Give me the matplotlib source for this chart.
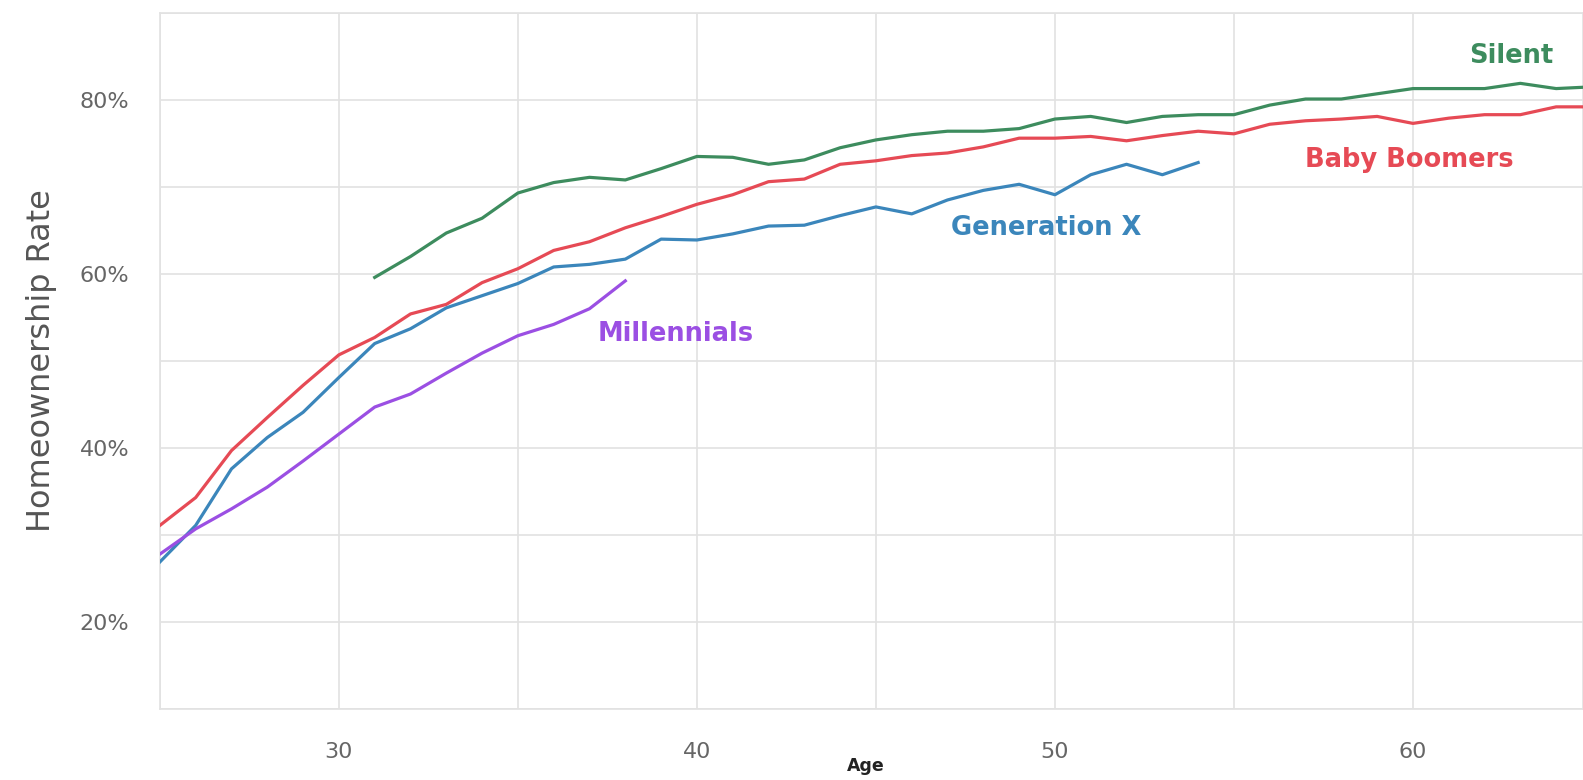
import matplotlib
matplotlib.use("Agg")
import matplotlib.pyplot as plt
from matplotlib.ticker import FixedLocator, FuncFormatter

# homeownership rate (%) by age, per generation
silent_age = list(range(31, 66))
silent = [59.6, 62.0, 64.7, 66.4, 69.3, 70.5, 71.1, 70.8, 72.1, 73.5,
          73.4, 72.6, 73.1, 74.5, 75.4, 76.0, 76.4, 76.4, 76.7, 77.8,
          78.1, 77.4, 78.1, 78.3, 78.3, 79.4, 80.1, 80.1, 80.7, 81.3,
          81.3, 81.3, 81.9, 81.3, 81.5]

boomers_age = list(range(25, 66))
boomers = [31.1, 34.3, 39.7, 43.5, 47.2, 50.7, 52.7, 55.4, 56.5, 59.0,
           60.6, 62.7, 63.7, 65.3, 66.6, 68.0, 69.1, 70.6, 70.9, 72.6,
           73.0, 73.6, 73.9, 74.6, 75.6, 75.6, 75.8, 75.3, 75.9, 76.4,
           76.1, 77.2, 77.6, 77.8, 78.1, 77.3, 77.9, 78.3, 78.3, 79.2,
           79.2]

genx_age = list(range(25, 55))
genx = [26.9, 31.1, 37.6, 41.2, 44.1, 48.1, 52.0, 53.7, 56.1, 57.5,
        58.9, 60.8, 61.1, 61.7, 64.0, 63.9, 64.6, 65.5, 65.6, 66.7,
        67.7, 66.9, 68.5, 69.6, 70.3, 69.1, 71.4, 72.6, 71.4, 72.8]

mill_age = list(range(25, 39))
mill = [27.8, 30.7, 33.0, 35.5, 38.5, 41.6, 44.7, 46.2, 48.6, 50.9,
        52.9, 54.2, 56.0, 59.2]

series = [
    (silent_age, silent, "#3d8c5e", "Silent", 62.75, 85.1),
    (boomers_age, boomers, "#e64a55", "Baby Boomers", 59.9, 73.1),
    (genx_age, genx, "#3b86bb", "Generation X", 49.75, 65.3),
    (mill_age, mill, "#9b4fe3", "Millennials", 39.4, 53.1),
]

plt.rcParams['font.family'] = ['DejaVu Sans']

fig = plt.figure(figsize=(15.83, 7.80), dpi=100)
ax = fig.add_axes([0.101, 0.091, 0.899, 0.8925])

for x, y, color, name, tx, ty in series:
    ax.plot(x, y, color=color, lw=2.3, solid_joinstyle="round", zorder=3)
    ax.text(tx, ty, name, color=color, fontsize=18.5, fontweight="bold",
            ha="center", va="center", zorder=4)

ax.set_xlim(25, 64.75)
ax.set_ylim(10, 90)

ax.xaxis.set_major_locator(FixedLocator([30, 40, 50, 60]))
ax.xaxis.set_minor_locator(FixedLocator([25, 35, 45, 55]))
ax.yaxis.set_major_locator(FixedLocator([20, 40, 60, 80]))
ax.yaxis.set_minor_locator(FixedLocator([10, 30, 50, 70, 90]))
ax.yaxis.set_major_formatter(FuncFormatter(lambda v, p: f"{v:.0f}%"))

ax.grid(True, which="both", color="#e2e2e2", lw=1.2, zorder=0)
ax.tick_params(which="both", length=0)
ax.tick_params(axis="x", pad=24, labelsize=16, labelcolor="#666666")
ax.tick_params(axis="y", pad=22, labelsize=16, labelcolor="#666666")

for s in ax.spines.values():
    s.set_color("#e2e2e2")
    s.set_linewidth(1.2)

ax.set_ylabel("Homeownership Rate", fontsize=23, color="#555555", labelpad=16)
ax.set_xlabel("Age", fontsize=12.5, fontweight="bold", color="#222222")
ax.xaxis.set_label_coords(0.4957, -0.069)

fig.savefig("out.png", dpi=100, facecolor="white")
